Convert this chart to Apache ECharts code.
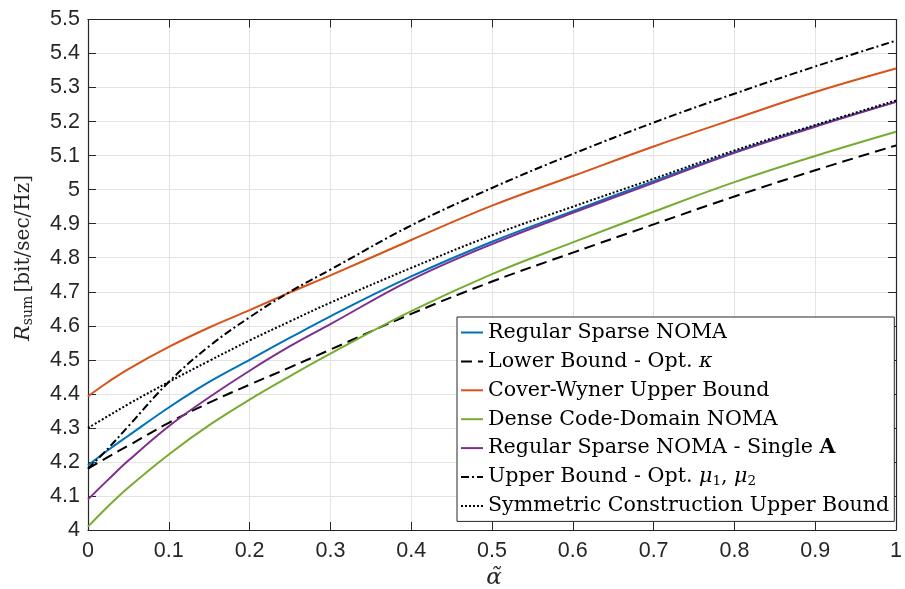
<!DOCTYPE html>
<html>
<head>
<meta charset="utf-8">
<script src="https://cdn.jsdelivr.net/npm/echarts@6/dist/echarts.min.js"></script>
<style>html,body{margin:0;padding:0;background:#fff}#c{width:905px;height:589px}</style>
</head>
<body>
<div id="c"></div>
<script>
// x positions (alpha tilde)
var alphaVals = [0, 0.025, 0.05, 0.1, 0.15, 0.2, 0.25, 0.3, 0.4, 0.5, 0.6, 0.7, 0.8, 0.9, 1.0];
// series values
var regularSparse   = [4.19, 4.235, 4.277, 4.36, 4.435, 4.50, 4.565, 4.628, 4.745, 4.847, 4.937, 5.025, 5.11, 5.187, 5.258];
var lowerBound      = [4.18, 4.215, 4.248, 4.315, 4.374, 4.427, 4.478, 4.53, 4.635, 4.73, 4.815, 4.898, 4.98, 5.057, 5.13];
var coverWyner      = [4.393, 4.435, 4.473, 4.538, 4.595, 4.646, 4.698, 4.748, 4.852, 4.953, 5.04, 5.127, 5.208, 5.287, 5.356];
var denseCD         = [4.01, 4.07, 4.125, 4.222, 4.308, 4.383, 4.452, 4.518, 4.643, 4.752, 4.845, 4.935, 5.022, 5.099, 5.17];
var regularSingleA  = [4.09, 4.148, 4.204, 4.305, 4.39, 4.468, 4.54, 4.605, 4.735, 4.84, 4.932, 5.02, 5.108, 5.185, 5.258];
var upperBoundMu    = [4.18, 4.24, 4.305, 4.435, 4.54, 4.625, 4.70, 4.765, 4.895, 5.005, 5.105, 5.197, 5.282, 5.362, 5.438];
var symmetricUB     = [4.30, 4.335, 4.37, 4.435, 4.497, 4.557, 4.613, 4.668, 4.77, 4.866, 4.95, 5.032, 5.115, 5.19, 5.262];

var seriesNames = [
  'Regular Sparse NOMA',
  'Lower Bound - Opt. κ',
  'Cover-Wyner Upper Bound',
  'Dense Code-Domain NOMA',
  'Regular Sparse NOMA - Single A',
  'Upper Bound - Opt. μ1, μ2',
  'Symmetric Construction Upper Bound'
];
var seriesValues = [regularSparse, lowerBound, coverWyner, denseCD, regularSingleA, upperBoundMu, symmetricUB];
var seriesColors = ['#0072BD', '#000000', '#D95319', '#77AC30', '#7E2F8E', '#000000', '#000000'];
var seriesDash = ['solid', [11, 6], 'solid', 'solid', 'solid', [8, 3, 2, 3], [2, 2]];

var serif = 'DejaVu Serif';
var lgSize = 20.6;
var legendRich = {
  it: {fontFamily: serif, fontStyle: 'italic', fontSize: lgSize, lineHeight: 24},
  b: {fontFamily: serif, fontWeight: 'bold', fontSize: lgSize, lineHeight: 24},
  sub: {fontFamily: serif, fontSize: 13.5, lineHeight: 24, padding: [9, 0, 0, 0]}
};
function legendFmt(name) {
  if (name === 'Lower Bound - Opt. κ') return 'Lower Bound - Opt. {it|κ}';
  if (name === 'Regular Sparse NOMA - Single A') return 'Regular Sparse NOMA - Single {b|A}';
  if (name === 'Upper Bound - Opt. μ1, μ2') return 'Upper Bound - Opt. {it|μ}{sub|1}, {it|μ}{sub|2}';
  return name;
}

var chart = echarts.init(document.getElementById('c'), null, {renderer: 'canvas'});
var axisCol = '#262626';
var labelFont = {color: '#262626', fontFamily: 'Liberation Sans', fontSize: 21.5};

var series = seriesNames.map(function (n, k) {
  return {
    name: n, type: 'line', xAxisIndex: 0, yAxisIndex: 0,
    data: alphaVals.map(function (x, i) { return [x, seriesValues[k][i]]; }),
    showSymbol: false, symbol: 'none', smooth: 0.4,
    lineStyle: {color: seriesColors[k], width: 2, type: seriesDash[k]},
    itemStyle: {color: seriesColors[k]},
    emphasis: {disabled: true}, animation: false
  };
});

chart.setOption({
  animation: false,
  backgroundColor: '#fff',
  grid: {left: 88, right: 5, top: 19.5, bottom: 59, containLabel: false},
  xAxis: [{
    type: 'value', min: 0, max: 1, interval: 0.1, position: 'bottom',
    axisLine: {show: true, onZero: false, lineStyle: {color: axisCol, width: 1.2}},
    axisTick: {show: true, inside: true, length: 8, lineStyle: {color: axisCol}},
    axisLabel: Object.assign({margin: 10}, labelFont),
    splitLine: {show: true, lineStyle: {color: '#e3e3e3', width: 1}}
  }, {
    type: 'value', min: 0, max: 1, interval: 0.1, position: 'top',
    axisLine: {show: true, onZero: false, lineStyle: {color: axisCol, width: 1.2}},
    axisTick: {show: true, inside: true, length: 8, lineStyle: {color: axisCol}},
    axisLabel: {show: false}, splitLine: {show: false}
  }],
  yAxis: [{
    type: 'value', min: 4, max: 5.5, interval: 0.1, position: 'left',
    axisLine: {show: true, onZero: false, lineStyle: {color: axisCol, width: 1.2}},
    axisTick: {show: true, inside: true, length: 8, lineStyle: {color: axisCol}},
    axisLabel: Object.assign({margin: 8}, labelFont),
    splitLine: {show: true, lineStyle: {color: '#e3e3e3', width: 1}}
  }, {
    type: 'value', min: 4, max: 5.5, interval: 0.1, position: 'right',
    axisLine: {show: true, onZero: false, lineStyle: {color: axisCol, width: 1.2}},
    axisTick: {show: true, inside: true, length: 8, lineStyle: {color: axisCol}},
    axisLabel: {show: false}, splitLine: {show: false}
  }],
  graphic: [{
    type: 'text', x: 24, y: 258, rotation: Math.PI / 2,
    style: {
      text: '{R|R}{sub|sum} {t|[bit/sec/Hz]}',
      align: 'center', verticalAlign: 'middle', fill: '#262626',
      rich: {
        R: {fontFamily: serif, fontStyle: 'italic', fontSize: 21, fill: '#262626', lineHeight: 26},
        sub: {fontFamily: serif, fontSize: 14, fill: '#262626', lineHeight: 26, padding: [9, 0, 0, 0]},
        t: {fontFamily: serif, fontSize: 20, fill: '#262626', lineHeight: 26}
      }
    }
  }, {
    type: 'text', x: 494, y: 578,
    style: {
      text: 'α̃', align: 'center', verticalAlign: 'middle', fill: '#262626',
      font: 'italic 23px "DejaVu Serif"'
    }
  }],
  legend: {
    show: true, orient: 'vertical', left: 457, top: 317,
    data: seriesNames,
    backgroundColor: '#fff', borderColor: '#262626', borderWidth: 1,
    padding: [3.5, 5, 3.5, 3], itemGap: 4.9, itemWidth: 22, itemHeight: 12,
    selectedMode: false,
    itemStyle: {opacity: 0},
    formatter: legendFmt,
    textStyle: {fontFamily: serif, fontSize: lgSize, color: '#000', lineHeight: 24, rich: legendRich}
  },
  series: series
});
</script>
</body>
</html>
